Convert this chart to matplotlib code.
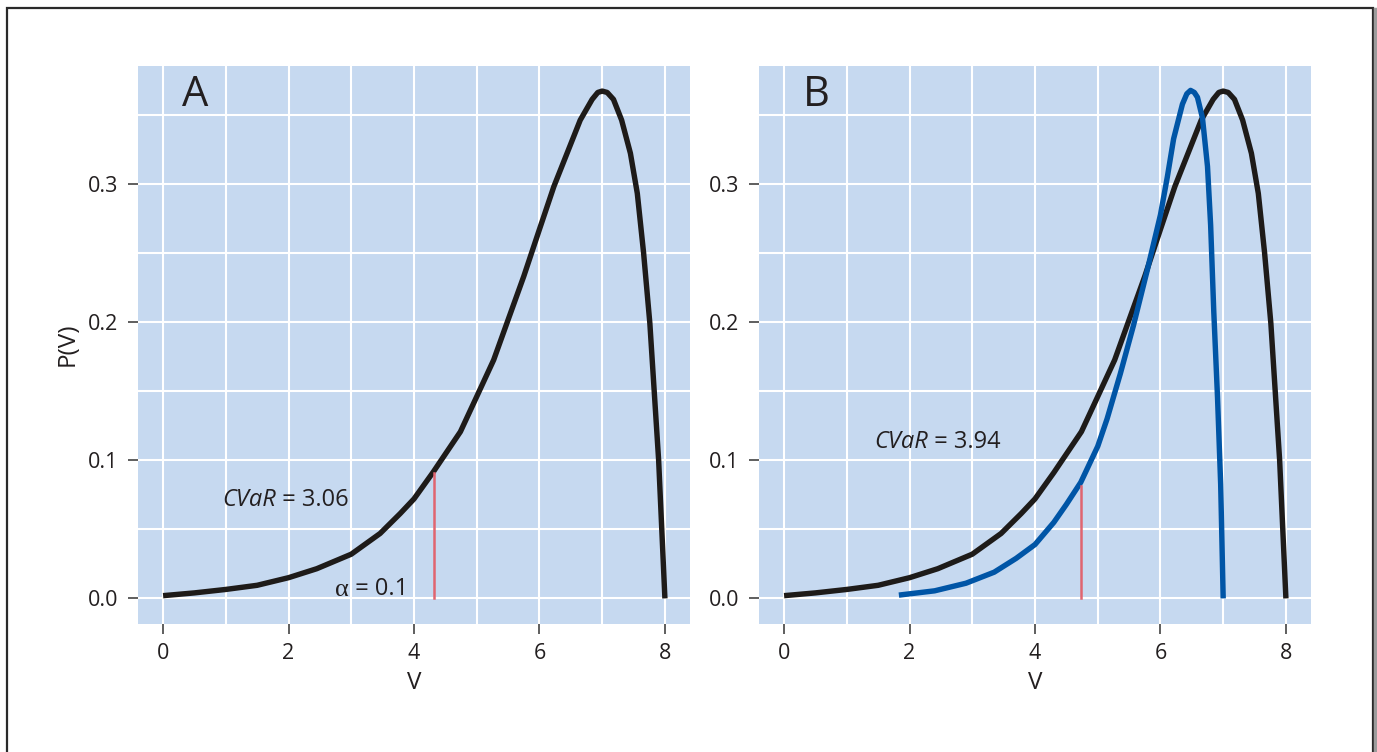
import matplotlib
matplotlib.use("Agg")
import matplotlib.pyplot as plt
from matplotlib.patches import Rectangle
from matplotlib.lines import Line2D
from matplotlib.ticker import MultipleLocator

# black curve (same distribution in both panels)
v_black = [0.0, 0.5, 1.0, 1.5, 2.0, 2.45, 3.0, 3.46, 3.78, 4.0, 4.3, 4.74, 5.0,
           5.27, 5.48, 5.75, 6.0, 6.23, 6.44, 6.65, 6.84, 6.93, 7.0, 7.08, 7.18,
           7.31, 7.45, 7.56, 7.66, 7.76, 7.83, 7.9, 7.95, 8.0]
p_black = [0.002, 0.004, 0.0065, 0.0095, 0.015, 0.0215, 0.032, 0.047, 0.0614,
           0.072, 0.091, 0.1206, 0.146, 0.1725, 0.199, 0.233, 0.267, 0.298, 0.322,
           0.346, 0.361, 0.366, 0.367, 0.366, 0.361, 0.346, 0.322, 0.293, 0.250,
           0.199, 0.1495, 0.100, 0.050, 0.0]

# blue curve (panel B)
v_blue = [1.83, 2.4, 2.9, 3.35, 3.7, 4.0, 4.3, 4.5, 4.73, 5.0, 5.15, 5.36, 5.57,
          5.79, 6.0, 6.11, 6.21, 6.35, 6.42, 6.48, 6.54, 6.59, 6.67, 6.75, 6.8,
          6.85, 6.91, 6.96, 7.0]
p_blue = [0.0024, 0.0055, 0.011, 0.019, 0.029, 0.039, 0.055, 0.068, 0.084, 0.110,
          0.130, 0.1625, 0.1975, 0.2375, 0.2775, 0.305, 0.3325, 0.3575, 0.365,
          0.3675, 0.366, 0.3625, 0.3475, 0.3125, 0.270, 0.2075, 0.145, 0.0825, 0.0]

# alpha = 0.1 quantile markers
var_a, var_a_top = 4.32, 0.091
var_b, var_b_top = 4.73, 0.081
cvar_a = "3.06"
cvar_b = "3.94"

x_ticks = [0, 2, 4, 6, 8]
y_ticks = [0.0, 0.1, 0.2, 0.3]

BG = "#c6d9f0"
BLACK = "#1e1b19"
BLUE = "#0055a6"
RED = "#e06570"
TXT = "#231f20"

plt.rcParams["font.family"] = ["Open Sans", "DejaVu Sans"]

fig = plt.figure(figsize=(13.77, 7.52), dpi=100)

# outer frame with a little shadow on the right
fig.patches.append(Rectangle((6.5 / 1377, -0.05), (1372.5 - 6.5) / 1377,
                             1.05 - 7.5 / 752, transform=fig.transFigure,
                             fill=False, ec="#2a2a2a", lw=1.6))
fig.lines.append(Line2D([1375 / 1377, 1375 / 1377], [0, 1 - 9 / 752],
                        transform=fig.transFigure, color="#9c9c9c", lw=2.5))


def style_axes(ax, letter):
    ax.set_facecolor(BG)
    for s in ax.spines.values():
        s.set_visible(False)
    ax.set_xlim(-0.4, 8.4)
    ax.set_ylim(-0.0185, 0.3855)
    ax.set_xticks(x_ticks)
    ax.set_yticks(y_ticks)
    ax.set_xticklabels([str(t) for t in x_ticks])
    ax.set_yticklabels([f"{t:.1f}" for t in y_ticks])
    ax.xaxis.set_minor_locator(MultipleLocator(1))
    ax.yaxis.set_minor_locator(MultipleLocator(0.05))
    ax.grid(True, which="both", color="white", lw=1.5)
    ax.set_axisbelow(True)
    ax.tick_params(which="major", direction="out", length=7, width=1.1,
                   color="#333333", labelsize=15.5, labelcolor=TXT, pad=7)
    ax.tick_params(which="minor", length=0)
    ax.set_xlabel("V", fontsize=17.5, color=TXT, labelpad=5)
    ax.text(0.08, 0.985, letter, transform=ax.transAxes, fontsize=30,
            color=TXT, ha="left", va="top")


def cvar_label(ax, x, y, value):
    t1 = ax.text(x, y, "CVaR", fontsize=17, style="italic", color=TXT,
                 ha="left", va="center")
    ax.annotate(f" = {value}", xy=(1, 0), xycoords=t1, fontsize=17,
                color=TXT, ha="left", va="bottom")


line_kw = dict(lw=3.9, solid_capstyle="butt", solid_joinstyle="round")

ax_a = fig.add_axes([138 / 1377, 1 - 624 / 752, 552 / 1377, 558.5 / 752])
style_axes(ax_a, "A")
ax_a.set_ylabel("P(V)", fontsize=17.5, color=TXT, labelpad=6)
ax_a.plot(v_black, p_black, color=BLACK, **line_kw)
ax_a.plot([var_a, var_a], [0, var_a_top], color=RED, lw=1.8)
cvar_label(ax_a, 0.94, 0.071, cvar_a)
t_alpha = ax_a.text(2.74, 0.002, "\u03b1", fontsize=19, color=TXT,
                    family=["Liberation Serif"], ha="left", va="baseline")
ax_a.annotate(" = 0.1", xy=(1, 0), xycoords=t_alpha, fontsize=17, color=TXT,
              ha="left", va="bottom")

ax_b = fig.add_axes([759 / 1377, 1 - 624 / 752, 552 / 1377, 558.5 / 752])
style_axes(ax_b, "B")
ax_b.plot(v_black, p_black, color=BLACK, **line_kw)
ax_b.plot(v_blue, p_blue, color=BLUE, **line_kw)
ax_b.plot([var_b, var_b], [0, var_b_top], color=RED, lw=1.8)
cvar_label(ax_b, 1.43, 0.113, cvar_b)

fig.savefig("out.png", dpi=100)
